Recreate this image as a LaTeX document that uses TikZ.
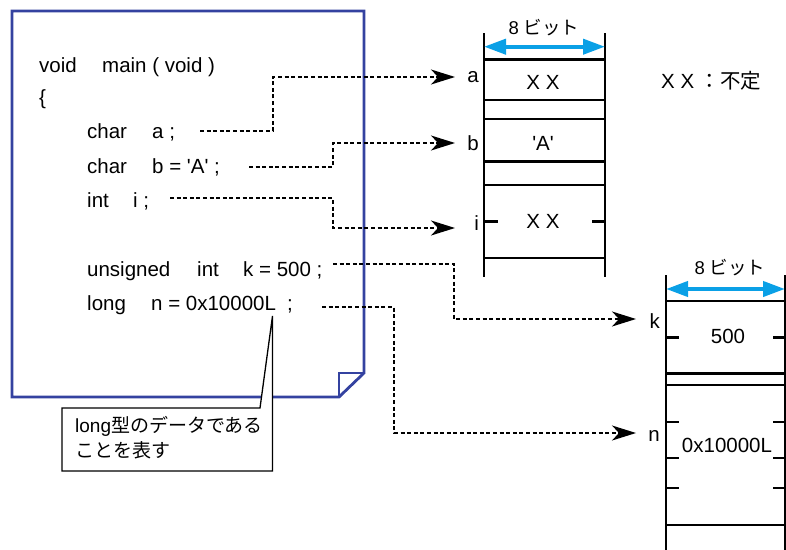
\documentclass[tikz,border=0pt]{standalone}
\usepackage{fontspec}
\setmainfont{Liberation Sans}
\newfontfamily\jp{Noto Sans CJK JP}
\usetikzlibrary{arrows.meta}
\definecolor{docblue}{RGB}{52,66,160}
\definecolor{bitblue}{RGB}{10,160,230}
\tikzset{
  code/.style={anchor=base west, inner sep=0pt, font=\fontsize{20.5}{24}\selectfont},
  cell/.style={anchor=base, inner sep=0pt, font=\fontsize{20.5}{24}\selectfont},
  varname/.style={anchor=base east, inner sep=0pt, font=\fontsize{20.5}{24}\selectfont},
  bitlabel/.style={anchor=base, inner sep=0pt, font=\fontsize{18.5}{22}\selectfont},
  doc/.style={draw=docblue, line width=2.8pt, line join=miter},
  rail/.style={line width=2.8pt},
  conn/.style={line width=1.4pt, dash pattern=on 4pt off 2.6pt,
    -{Stealth[length=24pt,width=15pt,inset=7pt]}},
  bitwidth/.style={bitblue, line width=4pt,
    {Triangle[length=22pt,width=15pt]}-{Triangle[length=22pt,width=15pt]}},
  callout/.style={draw=black, line width=1.3pt, fill=white, line join=miter}
}
\begin{document}
\begin{tikzpicture}[x=1pt,y=-1pt]
\useasboundingbox (0,0) rectangle (786,549);

% source listing sheet with folded corner
\draw[doc] (12,11) -- (364,11) -- (364,373) -- (339,397) -- (12,397) -- cycle;
\draw[doc] (339,397) -- (339,373) -- (364,373);

% source lines
\node[code] (c1a) at (39,72) {void};
\node[code] (c1b) at (102,72) {main ( void )};
\node[code] (c2) at (39,104) {\{};
\node[code] (c3a) at (87,138) {char};
\node[code] (c3b) at (152,138) {a ;};
\node[code] (c4a) at (87,173) {char};
\node[code] (c4b) at (152,173) {b = \textquotesingle A\textquotesingle\ ;};
\node[code] (c5a) at (87,207) {int};
\node[code] (c5b) at (133,207) {i ;};
\node[code] (c6a) at (87,276) {unsigned};
\node[code] (c6b) at (197,276) {int};
\node[code] (c6c) at (243,276) {k = 500 ;};
\node[code] (c7a) at (87,310) {long};
\node[code] (c7b) at (151,310) {n = 0x10000L};
\node[code] (c7c) at (287,310) {;};

% memory cells, first block
\foreach \yy in {59.3,100,119,161.7,185,258}
  \draw[rail] (484,\yy) -- (605,\yy);
\draw[rail] (484,221.7) -- (498,221.7);
\draw[rail] (592,221.7) -- (605,221.7);
\draw[rail] (484,33) -- (484,277);
\draw[rail] (605,33) -- (605,277);
\draw[bitwidth] (484,46.7) -- (605,46.7);
\node[bitlabel] (w1) at (544,34) {8 {\jp ビット}};
\node[cell] (va) at (543,89) {X X};
\node[cell] (vb) at (543,150) {\textquotesingle A\textquotesingle};
\node[cell] (vi) at (543,228) {X X};
\node[varname] (la) at (479,82) {a};
\node[varname] (lb) at (479,150) {b};
\node[varname] (li) at (479,230) {i};

% legend
\node[anchor=base west, inner sep=0pt, font=\fontsize{20.5}{24}\selectfont] (legend) at (661,88) {X X {\jp ：不定}};

% memory cells, second block
\foreach \yy in {301,373.3,385,525}
  \draw[rail] (666,\yy) -- (785,\yy);
\foreach \yy in {337.3,422,458,488} {
  \draw[rail] (666,\yy) -- (679,\yy);
  \draw[rail] (773,\yy) -- (785,\yy);
}
\draw[rail] (666,275) -- (666,550);
\draw[rail] (785,275) -- (785,550);
\draw[bitwidth] (666,289) -- (785,289);
\node[bitlabel] (w2) at (730,274) {8 {\jp ビット}};
\node[cell] (vk) at (728,343) {500};
\node[cell] (vn) at (727,452) {0x10000L};
\node[varname] (lk) at (660,328) {k};
\node[varname] (ln) at (660,441) {n};

% connectors from declarations to storage
\coordinate (sa) at (200,131);
\coordinate (sb) at (249,167);
\coordinate (si) at (170,198);
\coordinate (sk) at (333,264);
\coordinate (sn) at (322,307);
\draw[conn] (sa) -- (273,131) -- (273,77) -- (455,77);
\draw[conn] (sb) -- (333,167) -- (333,143) -- (455,143);
\draw[conn] (si) -- (333,198) -- (333,228) -- (455,228);
\draw[conn] (sk) -- (454,264) -- (454,319) -- (636,319);
\draw[conn] (sn) -- (394,307) -- (394,433) -- (636,433);

% callout for the L suffix
\coordinate (tip) at (272.5,316);
\draw[callout] (62,408) -- (260,408) -- (tip) -- (272.5,471) -- (62,471) -- cycle;
\node[anchor=base west, inner sep=0pt, align=left, font=\fontsize{19}{25}\selectfont] (note) at (75,457)
  {long{\jp 型のデータである}\\{\jp ことを表す}};
\end{tikzpicture}
\end{document}
